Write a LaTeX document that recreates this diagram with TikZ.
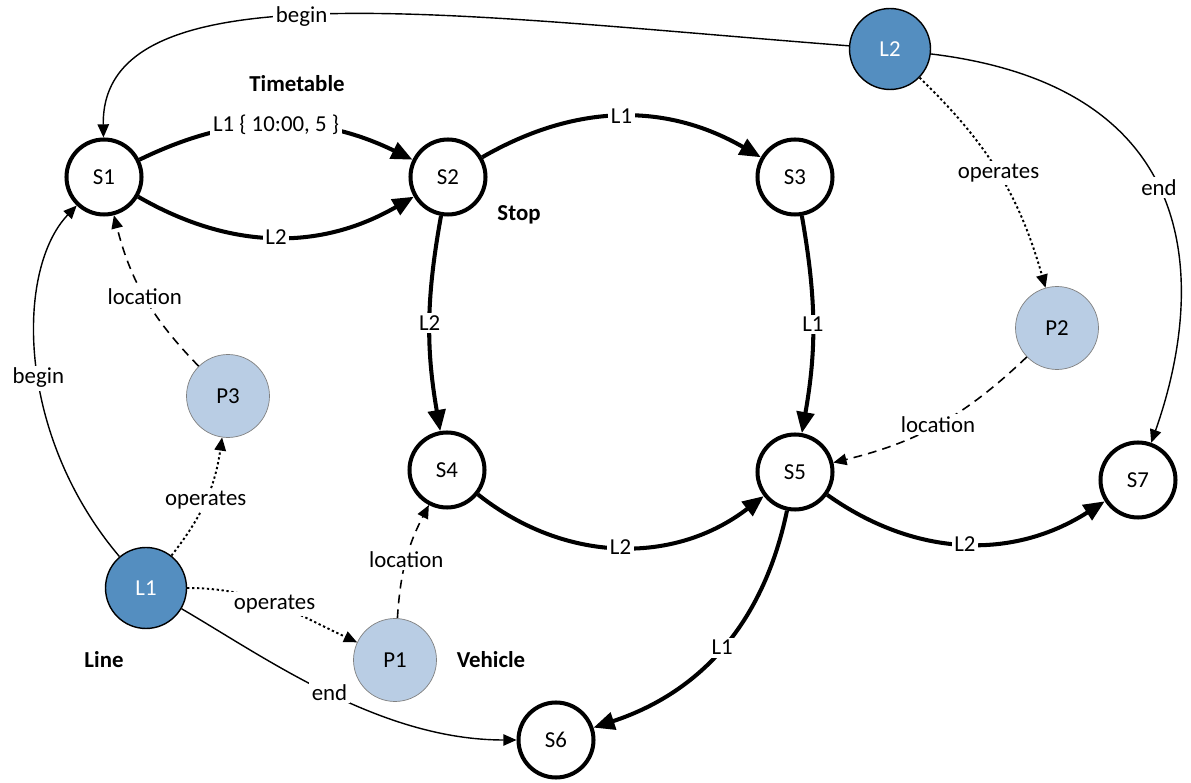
\documentclass[tikz,border=0pt]{standalone}
\usepackage{fontspec}
\setmainfont{Carlito}
\usepackage{tikz}
\usetikzlibrary{arrows.meta,positioning}
\definecolor{linefill}{RGB}{84,142,192}
\definecolor{vehfill}{RGB}{185,205,228}

\begin{document}
\begin{tikzpicture}[x=0.02cm, y=0.02cm, font=\fontsize{13}{15}\selectfont,
    stopnode/.style={draw, circle, line width=2.3pt, minimum size=1.5cm, inner sep=0pt},
    linenode/.style={draw, circle, fill=linefill, text=white, line width=0.8pt, minimum size=1.62cm, inner sep=0pt},
    vehnode/.style={draw=gray, circle, fill=vehfill, line width=0.4pt, minimum size=1.66cm, inner sep=0pt},
    route/.style={line width=2.3pt, -{Triangle[length=12pt,width=10pt]}},
    link/.style={line width=0.8pt, -{Triangle[length=7.5pt,width=6.5pt]}},
    opedge/.style={line width=1.1pt, dash pattern=on 1.3pt off 1.5pt, -{Triangle[length=7.5pt,width=6.5pt]}},
    locedge/.style={line width=0.9pt, dash pattern=on 5pt off 3.5pt, -{Triangle[length=7.5pt,width=6.5pt]}},
    lbl/.style={fill=white, inner sep=1.5pt},
    title/.style={font=\fontsize{13}{15}\selectfont\bfseries}]
    \useasboundingbox (0,0) rectangle (1191,-783);

    % stops
    \node[stopnode] (s1) at (104,-177) {S1};
    \node[stopnode] (s2) at (448,-177) {S2};
    \node[stopnode] (s3) at (795,-177) {S3};
    \node[stopnode] (s4) at (447,-470) {S4};
    \node[stopnode] (s5) at (795,-472) {S5};
    \node[stopnode] (s6) at (556,-740) {S6};
    \node[stopnode] (s7) at (1138,-480) {S7};

    % lines and vehicles
    \node[linenode] (l2) at (890,-49) {L2};
    \node[linenode] (l1) at (146,-588) {L1};
    \node[vehnode] (p1) at (395,-660) {P1};
    \node[vehnode] (p2) at (1057,-328) {P2};
    \node[vehnode] (p3) at (228,-396) {P3};

    \node[title] (timetable) at (297,-84) {Timetable};
    \node[title] (stop) at (519,-215) {Stop};
    \node[title] (line) at (104,-660) {Line};
    \node[title] (vehicle) at (491,-660) {Vehicle};

    % timetable edges
    \draw[route] (s1) to[bend left=26] node[lbl] {L1 \{ 10:00, 5 \}} (s2);
    \draw[route] (s1) to[bend right=30] node[lbl] {L2} (s2);
    \draw[route] (s2) to[bend left=30] node[lbl] {L1} (s3);
    \draw[route] (s2) to[bend right=10] node[lbl] {L2} (s4);
    \draw[route] (s3) to[bend left=10] node[lbl] {L1} (s5);
    \draw[route] (s4) to[bend right=38] node[lbl] {L2} (s5);
    \draw[route] (s5) to[bend right=34] node[lbl] {L2} (s7);
    \draw[route] (s5) to[bend left=30] node[lbl] {L1} (s6);

    % begin / end of lines
    \draw[link] (l2) .. controls +(-440,34) and +(-3,212) .. node[lbl, pos=0.53] {begin} (s1);
    \draw[link] (l2) .. controls +(330,-40) and +(62,175) .. node[lbl, pos=0.45] {end} (s7);
    \draw[link] (l1) .. controls +(-131,155) and +(-88,-92) .. node[lbl, pos=0.45] {begin} (s1);
    \draw[link] (l1) .. controls +(120,-70) and +(-176,0) .. node[lbl, pos=0.5] {end} (s6);

    % operates
    \draw[opedge] (l1) to[bend right=15] node[lbl] {operates} (p3);
    \draw[opedge] (l1) to[out=0, in=155] node[lbl] {operates} (p1);
    \draw[opedge] (l2) to[bend left=15] node[lbl] {operates} (p2);

    % location
    \draw[locedge] (p3) to[bend left=15] node[lbl] {location} (s1);
    \draw[locedge] (p1) to[bend left=12] node[lbl] {location} (s4);
    \draw[locedge] (p2) to[bend left=15] node[lbl] {location} (s5);
\end{tikzpicture}
\end{document}
